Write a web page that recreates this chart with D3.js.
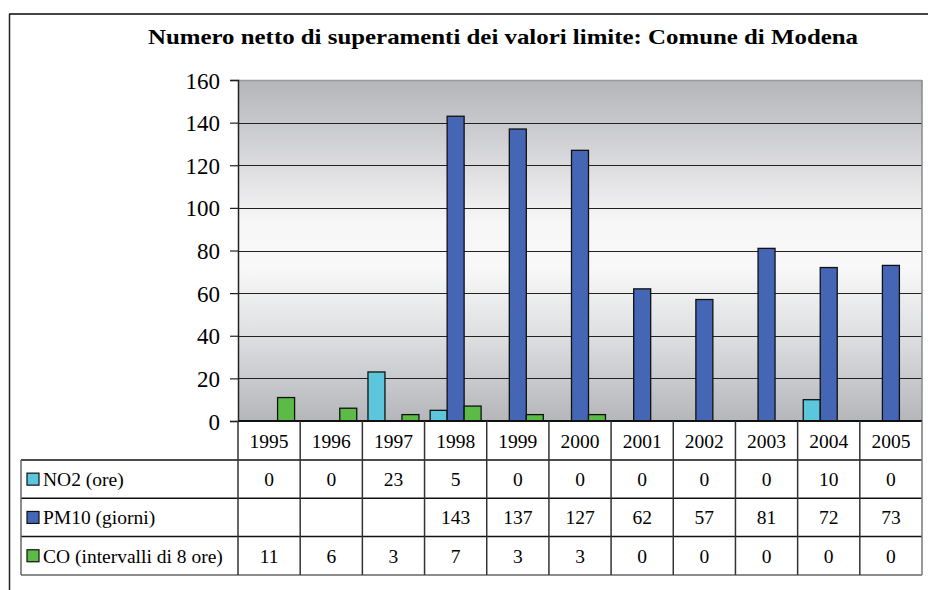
<!DOCTYPE html>
<html>
<head>
<meta charset="utf-8">
<script src="https://cdn.jsdelivr.net/npm/d3@7"></script>
</head>
<body style="margin:0">
<svg id="chart" width="928" height="590" style="font-family: 'Liberation Serif', Tinos, serif"></svg>
<script>
// Data
const years = ["1995", "1996", "1997", "1998", "1999", "2000", "2001", "2002", "2003", "2004", "2005"];
const seriesNames = ["NO2 (ore)", "PM10 (giorni)", "CO (intervalli di 8 ore)"];
const no2 = [0, 0, 23, 5, 0, 0, 0, 0, 0, 10, 0];
const pm10 = [null, null, null, 143, 137, 127, 62, 57, 81, 72, 73];
const co = [11, 6, 3, 7, 3, 3, 0, 0, 0, 0, 0];
const seriesColors = ["#5bc6dc", "#4466b4", "#5cbb46"];
const yTicks = [0, 20, 40, 60, 80, 100, 120, 140, 160];
const title = "Numero netto di superamenti dei valori limite:  Comune di Modena";

const series = [no2, pm10, co];
const serif = "Liberation Serif";

const svg = d3.select("#chart");

// Layout
const plot = { left: 238, right: 922, top: 80, bottom: 421 };
const rowH = 38.3;
const headerBottom = 460;
const tableLeft = 21;

// Scales
const x = d3.scaleBand().domain(years).range([plot.left, plot.right]).paddingInner(0).paddingOuter(0);
const xs = d3.scaleBand().domain(d3.range(series.length)).range([0, x.bandwidth()]).paddingInner(0).paddingOuter(0.33);
const y = d3.scaleLinear().domain([0, 160]).range([plot.bottom, plot.top]);

// Plain serif text helper
function label(sel, size) {
  return sel.style("font-family", serif).style("font-size", size + "px").attr("fill", "#000");
}

// Chart frame (top and left edges)
svg.append("line").attr("x1", 9).attr("x2", 928).attr("y1", 14).attr("y2", 14)
  .attr("stroke", "#444").attr("stroke-width", 2);
svg.append("line").attr("x1", 9.5).attr("x2", 9.5).attr("y1", 14).attr("y2", 590)
  .attr("stroke", "#222").attr("stroke-width", 1.5);

// Title
label(svg.append("text"), 22)
  .attr("x", 148).attr("y", 44)
  .attr("textLength", 710).attr("lengthAdjust", "spacingAndGlyphs")
  .style("font-weight", "bold")
  .text(title);

// Plot background gradient
const defs = svg.append("defs");
const grad = defs.append("linearGradient").attr("id", "bg")
  .attr("x1", 0).attr("x2", 0).attr("y1", 0).attr("y2", 1);
[[0, "#b3b5b9"], [0.25, "#dcdcdf"], [0.42, "#f7f7f7"], [0.55, "#f8f8f8"], [0.75, "#dedfe1"], [1, "#b5b6ba"]]
  .forEach(([o, c]) => grad.append("stop").attr("offset", o).attr("stop-color", c));

svg.append("rect")
  .attr("x", plot.left).attr("y", plot.top)
  .attr("width", plot.right - plot.left).attr("height", plot.bottom - plot.top)
  .attr("fill", "url(#bg)");

// Gridlines
svg.append("g").selectAll("line")
  .data(yTicks.filter(d => d > 0 && d < 160))
  .join("line")
  .attr("x1", plot.left).attr("x2", plot.right)
  .attr("y1", d => Math.round(y(d)) + 0.5).attr("y2", d => Math.round(y(d)) + 0.5)
  .attr("stroke", "#222").attr("stroke-width", 1);

// Plot border top/right
svg.append("line").attr("x1", plot.left).attr("x2", plot.right)
  .attr("y1", plot.top + 0.5).attr("y2", plot.top + 0.5)
  .attr("stroke", "#999").attr("stroke-width", 1.5);
svg.append("line").attr("x1", plot.right).attr("x2", plot.right)
  .attr("y1", plot.top).attr("y2", plot.bottom)
  .attr("stroke", "#888").attr("stroke-width", 1.5);

// Bars
const groups = svg.append("g").selectAll("g")
  .data(series)
  .join("g")
  .attr("fill", (d, i) => seriesColors[i]);

groups.each(function (vals, si) {
  d3.select(this).selectAll("rect")
    .data(vals.map((v, i) => ({ v, year: years[i] })).filter(d => d.v !== null && d.v > 0))
    .join("rect")
    .attr("x", d => x(d.year) + xs(si))
    .attr("width", xs.bandwidth())
    .attr("y", d => y(d.v))
    .attr("height", d => y(0) - y(d.v))
    .attr("stroke", "#111").attr("stroke-width", 1.3);
});

// Y axis
const yAxis = d3.axisLeft(y).tickValues(yTicks).tickSize(8).tickPadding(10);
const ya = svg.append("g").attr("transform", `translate(${plot.left},0)`).call(yAxis)
  .attr("font-family", null).attr("font-size", null);
ya.select(".domain").attr("stroke", "#222").attr("stroke-width", 1.5);
ya.selectAll(".tick line").attr("stroke", "#222").attr("stroke-width", 1.2);
label(ya.selectAll(".tick text"), 23).attr("dy", "0.35em");

// Zero baseline
svg.append("line").attr("x1", plot.left).attr("x2", plot.right)
  .attr("y1", plot.bottom).attr("y2", plot.bottom)
  .attr("stroke", "#111").attr("stroke-width", 2);

// Data table
const table = svg.append("g");
const tableBottom = headerBottom + rowH * series.length;

// Horizontal rules
const hRules = d3.range(series.length + 1).map(i => headerBottom + i * rowH);
table.selectAll("line.h")
  .data(hRules)
  .join("line").attr("class", "h")
  .attr("x1", tableLeft).attr("x2", plot.right)
  .attr("y1", d => d).attr("y2", d => d)
  .attr("stroke", (d, i) => i === hRules.length - 1 ? "#666" : "#111")
  .attr("stroke-width", 1.5);

// Vertical rules between year columns
const vEdges = years.map(yr => x(yr)).concat([plot.right]);
table.selectAll("line.v")
  .data(vEdges)
  .join("line").attr("class", "v")
  .attr("x1", d => d).attr("x2", d => d)
  .attr("y1", plot.bottom).attr("y2", tableBottom)
  .attr("stroke", (d, i) => i === vEdges.length - 1 ? "#777" : "#333")
  .attr("stroke-width", 1.5);

// Left edge of legend column
table.append("line")
  .attr("x1", tableLeft).attr("x2", tableLeft)
  .attr("y1", headerBottom).attr("y2", tableBottom)
  .attr("stroke", "#666").attr("stroke-width", 1.5);

// Year headers
label(table.selectAll("text.year").data(years).join("text").attr("class", "year"), 19.5)
  .attr("x", d => x(d) + x.bandwidth() / 2)
  .attr("y", (plot.bottom + headerBottom) / 2 + 7)
  .attr("text-anchor", "middle")
  .text(d => d);

// Series rows
series.forEach((vals, si) => {
  const top = headerBottom + si * rowH;
  const mid = top + rowH / 2;
  table.append("rect")
    .attr("x", 27).attr("y", mid - 6)
    .attr("width", 12).attr("height", 12)
    .attr("fill", seriesColors[si]).attr("stroke", "#111").attr("stroke-width", 1.2);
  label(table.append("text"), 19.5)
    .attr("x", 43).attr("y", mid + 7)
    .text(seriesNames[si]);
  label(table.selectAll(null)
    .data(vals.map((v, i) => ({ v, year: years[i] })).filter(d => d.v !== null))
    .join("text"), 19.5)
    .attr("x", d => x(d.year) + x.bandwidth() / 2)
    .attr("y", mid + 7)
    .attr("text-anchor", "middle")
    .text(d => d.v);
});
</script>
</body>
</html>
